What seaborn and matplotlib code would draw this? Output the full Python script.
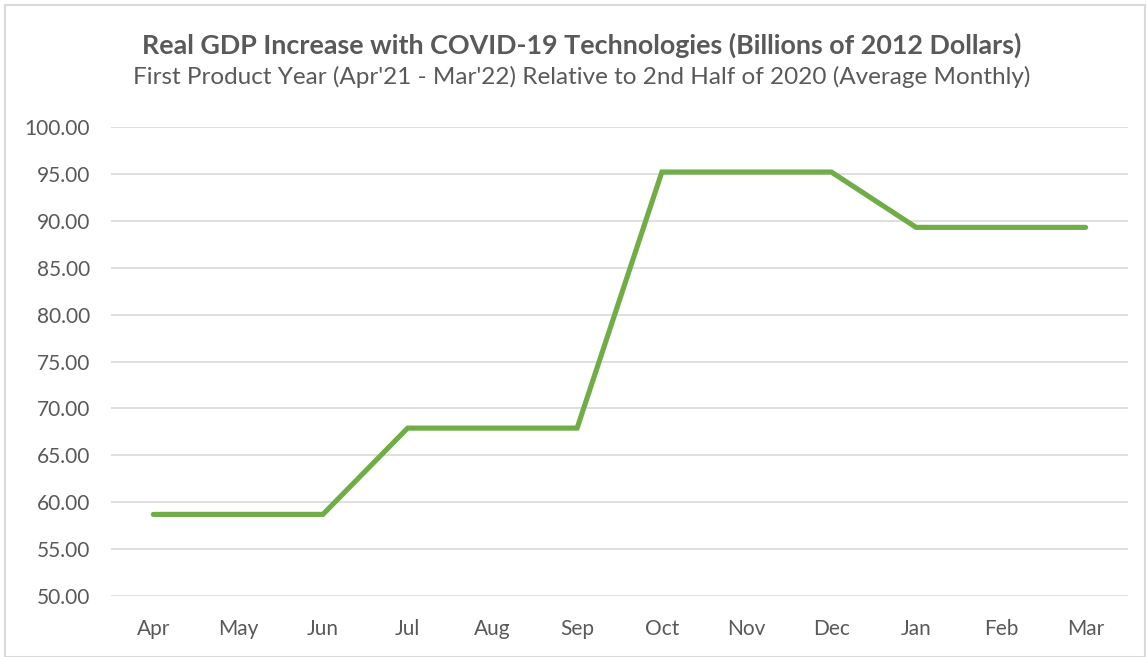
import matplotlib
matplotlib.use("Agg")
import matplotlib.pyplot as plt
import seaborn as sns
import pandas as pd
from matplotlib.patches import Rectangle

months = ["Apr", "May", "Jun", "Jul", "Aug", "Sep", "Oct", "Nov", "Dec", "Jan", "Feb", "Mar"]
gdp_increase = [58.7, 58.7, 58.7, 67.9, 67.9, 67.9, 95.2, 95.2, 95.2, 89.3, 89.3, 89.3]
y_ticks = [50, 55, 60, 65, 70, 75, 80, 85, 90, 95, 100]

sns.set_theme(style="white")
plt.rcParams['font.family'] = ['Lato', 'DejaVu Sans']

df = pd.DataFrame({"x": range(len(months)), "value": gdp_increase})

fig = plt.figure(figsize=(11.47, 6.57), dpi=100)
ax = fig.add_axes([111/1147, 1 - 596/657, (1128 - 111)/1147, (596 - 127)/657])

sns.lineplot(data=df, x="x", y="value", ax=ax, color="#70AD47", linewidth=3.7,
             solid_capstyle="round", solid_joinstyle="miter")

ax.set_xlim(-0.5, len(months) - 0.5)
ax.set_ylim(50, 100)
ax.set_yticks(y_ticks)
ax.set_yticklabels([f"{v:.2f}" for v in y_ticks])
ax.set_xticks(range(len(months)))
ax.set_xticklabels(months)
ax.tick_params(axis="both", colors="#595959", labelsize=15, length=0)
ax.tick_params(axis="x", pad=16.5)
ax.tick_params(axis="y", pad=15)
ax.grid(axis="y", color="#D9D9D9", linewidth=1.2)
ax.set_axisbelow(True)
for s in ax.spines.values():
    s.set_visible(False)
ax.set_xlabel("")
ax.set_ylabel("")

fig.text(0.5075, 1 - 45/657, "Real GDP Increase with COVID-19 Technologies (Billions of 2012 Dollars)",
         ha="center", va="center", fontsize=19.4, fontweight="bold", color="#595959")
fig.text(0.5075, 1 - 77/657, "First Product Year (Apr'21 - Mar'22) Relative to 2nd Half of 2020 (Average Monthly)",
         ha="center", va="center", fontsize=17.5, color="#595959")

fig.patches.append(Rectangle((5/1147, 0), 1 - 5/1147 - 2/1147, 1 - 5/657, transform=fig.transFigure,
                             fill=False, edgecolor="#D9D9D9", linewidth=1.5))

fig.savefig("out.png", dpi=100, facecolor="white")
